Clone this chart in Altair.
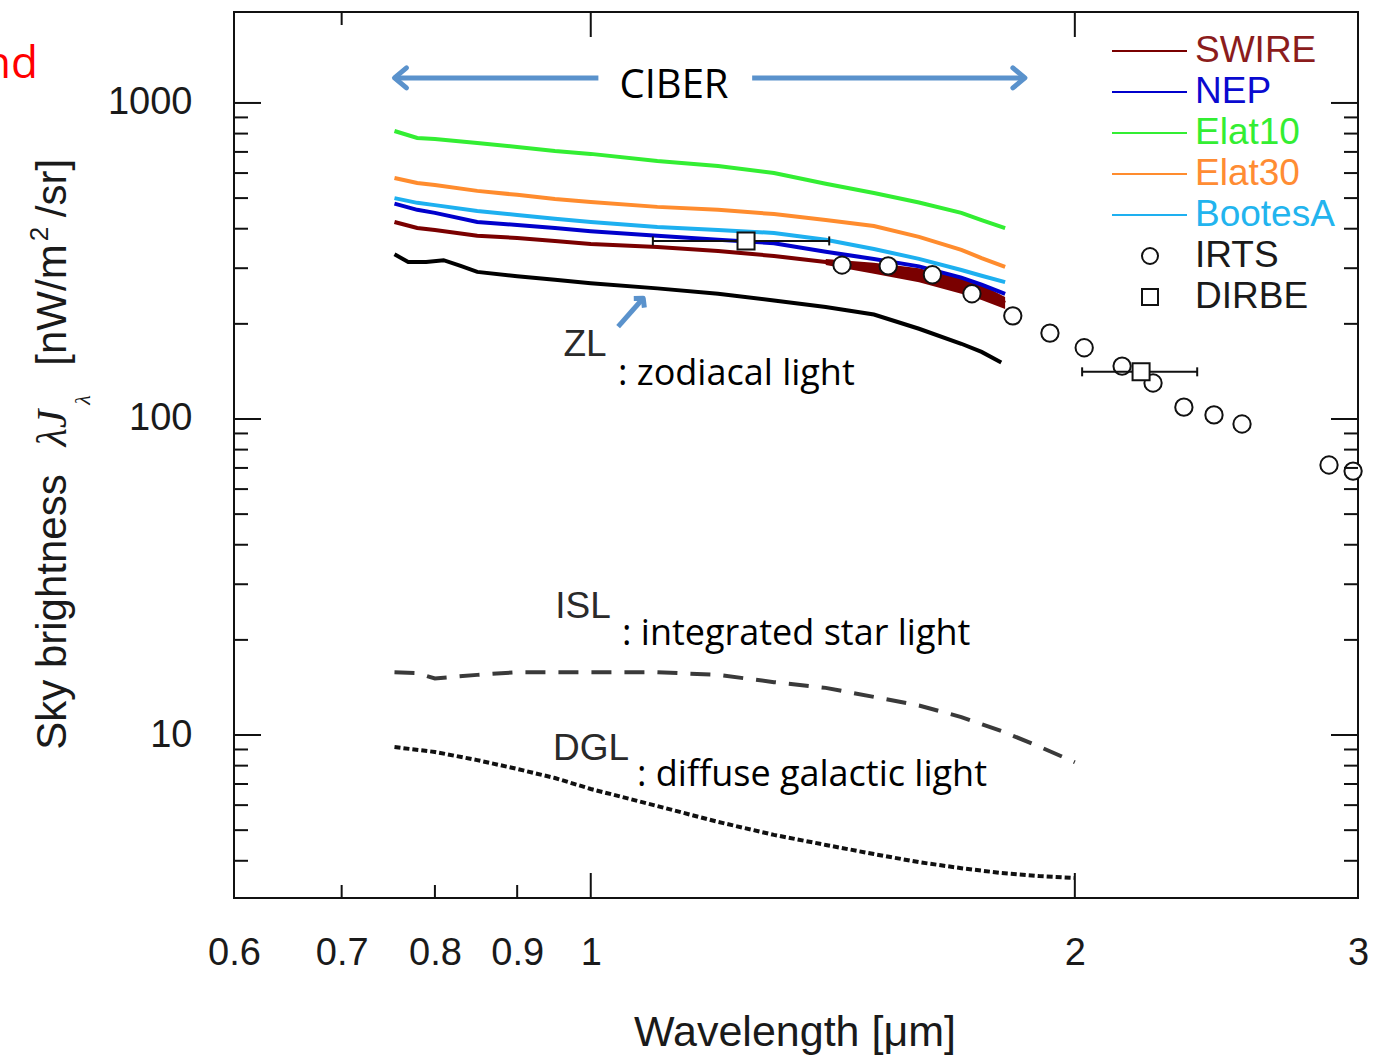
import altair as alt
import pandas as pd

# ---------------- data ----------------
# CIBER sky spectra per field  [um] / [nW/m^2/sr]
ciber_wl = [0.755, 0.78, 0.80, 0.85, 0.90, 0.95, 1.00, 1.10, 1.20, 1.30, 1.40, 1.50, 1.60, 1.70, 1.75, 1.81]
elat10 = [815, 775, 769, 747, 726, 705, 690, 655, 632, 600, 555, 519, 484, 449, 426, 402]
elat30 = [579, 558, 550, 527, 512, 497, 486, 469, 459, 445, 426, 408, 377, 343, 323, 303]
bootesa = [500, 483, 475, 455, 442, 430, 420, 405, 396, 388, 369, 345, 321, 296, 284, 271]
nep = [480, 459, 449, 420, 411, 402, 393, 380, 369, 360, 338, 321, 304, 280, 266, 249]
swire = [420, 402, 396, 380, 374, 366, 358, 350, 340, 328, 314, 300, 287, 264, 249, 233]

# SWIRE uncertainty band at long wavelengths
swire_band_wl = [1.40, 1.50, 1.60, 1.70, 1.75, 1.81]
swire_band_lo = [307, 288, 271, 249, 238, 223]
swire_band_hi = [321, 312, 300, 279, 266, 243]

# zodiacal light model
zl_wl = [0.755, 0.77, 0.79, 0.81, 0.83, 0.85, 0.90, 0.95, 1.00, 1.10, 1.20, 1.30, 1.40, 1.50, 1.60, 1.70, 1.75, 1.80]
zl = [332, 314, 314, 318, 305, 292, 283, 276, 269, 259, 249, 237, 226, 214, 193, 173, 163, 151]

# integrated star light
isl_wl = [0.755, 0.78, 0.80, 0.85, 0.90, 1.0, 1.1, 1.2, 1.3, 1.4, 1.5, 1.6, 1.7, 1.8, 1.9, 2.0]
isl = [15.8, 15.7, 15.1, 15.5, 15.8, 15.8, 15.8, 15.5, 14.7, 14.1, 13.2, 12.4, 11.4, 10.3, 9.2, 8.2]

# diffuse galactic light
dgl_wl = [0.755, 0.80, 0.85, 0.90, 0.95, 1.0, 1.1, 1.2, 1.3, 1.4, 1.5, 1.6, 1.7, 1.8, 1.9, 2.0]
dgl = [9.16, 8.84, 8.33, 7.81, 7.31, 6.75, 5.96, 5.31, 4.83, 4.49, 4.20, 3.96, 3.79, 3.66, 3.58, 3.53]

# IRTS points
irts_wl = [1.433, 1.531, 1.631, 1.726, 1.830, 1.930, 2.027, 2.140, 2.237, 2.338, 2.441, 2.541, 2.878, 2.979]
irts = [307, 305, 286, 249, 212, 187, 168, 147, 130, 109, 103, 96.4, 71.5, 68.4]

# DIRBE points with band widths
dirbe_wl = [1.249, 2.199]
dirbe = [366, 141]
dirbe_lo = [1.093, 2.021]
dirbe_hi = [1.407, 2.383]

# CIBER wavelength coverage arrow (two segments around the label)
ciber_seg_start = [0.755, 1.26]
ciber_seg_end = [1.011, 1.862]
ciber_arrow_level = [1200, 1200]

# ZL pointer arrow
zl_arrow_from = (1.040, 196)
zl_arrow_to = (1.078, 241)

# axes
x_tick_labels = [0.6, 0.7, 0.8, 0.9, 1, 2, 3]
x_major = [1, 2]
x_minor = [0.7, 0.8, 0.9]
x_top_major = [1, 2]
x_top_minor = [0.7]
y_tick_labels = [10, 100, 1000]
y_major = [10, 100, 1000]
y_minor = [4, 5, 6, 7, 8, 9, 20, 30, 40, 50, 60, 70, 80, 90,
           200, 300, 400, 500, 600, 700, 800, 900]

# legend
legend_names = ["SWIRE", "NEP", "Elat10", "Elat30", "BootesA"]
legend_line_colors = ["#7a0000", "#0000cc", "#33ee33", "#ff8c2e", "#1eb0f0"]
legend_text_colors = ["#8b1c1c", "#0a0ad0", "#33ee33", "#ff8c33", "#22b4ee"]
legend_symbols = [("IRTS", "circle"), ("DIRBE", "square")]

# ---------------- layout / styles ----------------
W, H = 1124, 886
SANS = "Liberation Sans"
CAL = "Open Sans"
INK = "#1a1a1a"
ARROW = "#5a92cc"

xs = alt.Scale(type="log", domain=[0.6, 3.0], nice=False)
ys = alt.Scale(type="log", domain=[3.05, 1940], nice=False)

x_axis = alt.Axis(values=x_tick_labels, format="~g", title=None, grid=False, domain=False,
                  ticks=False, tickSize=0, labelFont=SANS, labelFontSize=38, labelColor=INK,
                  labelPadding=55, labelBaseline="middle", labelFlush=False, labelOverlap=False)
y_axis = alt.Axis(values=y_tick_labels, format="d", title=None, grid=False, domain=False,
                  ticks=False, tickSize=0, labelFont=SANS, labelFontSize=38, labelColor=INK,
                  labelPadding=42, labelFlush=False, labelOverlap=False)


def X(f):
    return alt.X(f"{f}:Q", scale=xs, axis=x_axis)


def Y(f):
    return alt.Y(f"{f}:Q", scale=ys, axis=y_axis)


layers = []

# ISL (dashed)
layers.append(alt.Chart(pd.DataFrame({"wl": isl_wl, "v": isl})).mark_line(
    color="#3a3a3a", strokeWidth=4, strokeDash=[20, 13]).encode(x=X("wl"), y=Y("v")))
# DGL (dotted)
layers.append(alt.Chart(pd.DataFrame({"wl": dgl_wl, "v": dgl})).mark_line(
    color="#111111", strokeWidth=4, strokeDash=[6, 3]).encode(x=X("wl"), y=Y("v")))
# ZL
layers.append(alt.Chart(pd.DataFrame({"wl": zl_wl, "v": zl})).mark_line(
    color="#000000", strokeWidth=4).encode(x=X("wl"), y=Y("v")))
# SWIRE band
layers.append(alt.Chart(pd.DataFrame({"wl": swire_band_wl, "lo": swire_band_lo, "hi": swire_band_hi})).mark_area(
    color="#7a0000", opacity=1).encode(x=X("wl"), y=Y("lo"), y2=alt.Y2("hi")))

series_vals = {"SWIRE": swire, "NEP": nep, "Elat10": elat10, "Elat30": elat30, "BootesA": bootesa}
for name in ["SWIRE", "NEP", "BootesA", "Elat30", "Elat10"]:
    col = legend_line_colors[legend_names.index(name)]
    layers.append(alt.Chart(pd.DataFrame({"wl": ciber_wl, "v": series_vals[name]})).mark_line(
        color=col, strokeWidth=4).encode(x=X("wl"), y=Y("v")))

# IRTS circles
layers.append(alt.Chart(pd.DataFrame({"wl": irts_wl, "v": irts})).mark_point(
    shape="circle", size=300, fill="white", stroke="#111111", strokeWidth=2, opacity=1,
    fillOpacity=1).encode(x=X("wl"), y=Y("v")))

# DIRBE error bars + squares
dirbe_df = pd.DataFrame({"wl": dirbe_wl, "v": dirbe, "lo": dirbe_lo, "hi": dirbe_hi})
layers.append(alt.Chart(dirbe_df).mark_rule(color="#111111", strokeWidth=2).encode(
    x=X("lo"), x2=alt.X2("hi"), y=Y("v")))
layers.append(alt.Chart(dirbe_df).mark_tick(orient="vertical", size=9, thickness=2, color="#111111",
                                            opacity=1).encode(x=X("lo"), y=Y("v")))
layers.append(alt.Chart(dirbe_df).mark_tick(orient="vertical", size=9, thickness=2, color="#111111",
                                            opacity=1).encode(x=X("hi"), y=Y("v")))
layers.append(alt.Chart(dirbe_df).mark_point(
    shape="square", size=290, fill="white", stroke="#111111", strokeWidth=2, opacity=1,
    fillOpacity=1).encode(x=X("wl"), y=Y("v")))

# ---- inward ticks ----
def yticks(vals, length):
    d = pd.DataFrame({"v": vals})
    return [
        alt.Chart(d).mark_rule(color="#111111", strokeWidth=2).encode(y=Y("v"), x=alt.value(0), x2=alt.value(length)),
        alt.Chart(d).mark_rule(color="#111111", strokeWidth=2).encode(y=Y("v"), x=alt.value(W - length), x2=alt.value(W)),
    ]


def xticks(vals, length, top):
    d = pd.DataFrame({"v": vals})
    if top:
        return [alt.Chart(d).mark_rule(color="#111111", strokeWidth=2).encode(x=X("v"), y=alt.value(0), y2=alt.value(length))]
    return [alt.Chart(d).mark_rule(color="#111111", strokeWidth=2).encode(x=X("v"), y=alt.value(H - length), y2=alt.value(H))]


layers += yticks(y_major, 27) + yticks(y_minor, 14)
layers += xticks(x_major, 25, False) + xticks(x_minor, 13, False)
layers += xticks(x_top_major, 25, True) + xticks(x_top_minor, 13, True)

# ---- CIBER arrow ----
seg_df = pd.DataFrame({"a": ciber_seg_start, "b": ciber_seg_end, "v": ciber_arrow_level})
layers.append(alt.Chart(seg_df).mark_rule(color=ARROW, strokeWidth=5).encode(x=X("a"), x2=alt.X2("b"), y=Y("v")))
head_df = pd.DataFrame({"wl": [ciber_seg_start[0]], "v": [ciber_arrow_level[0]]})
layers.append(alt.Chart(head_df).mark_point(shape="M1.2,-1L0,0L1.2,1", size=400, filled=False, color=ARROW,
                                            strokeWidth=5, opacity=1, strokeCap="round", strokeJoin="round").encode(x=X("wl"), y=Y("v")))
head_df2 = pd.DataFrame({"wl": [ciber_seg_end[1]], "v": [ciber_arrow_level[1]]})
layers.append(alt.Chart(head_df2).mark_point(shape="M-1.2,-1L0,0L-1.2,1", size=400, filled=False, color=ARROW,
                                             strokeWidth=5, opacity=1, strokeCap="round", strokeJoin="round").encode(x=X("wl"), y=Y("v")))

# ---- ZL arrow ----
zl_arr = pd.DataFrame({"a": [zl_arrow_from[0]], "b": [zl_arrow_to[0]], "va": [zl_arrow_from[1]], "vb": [zl_arrow_to[1]]})
layers.append(alt.Chart(zl_arr).mark_rule(color=ARROW, strokeWidth=5).encode(
    x=X("a"), x2=alt.X2("b"), y=Y("va"), y2=alt.Y2("vb")))
layers.append(alt.Chart(zl_arr).mark_point(shape="M-1,0.9L0,0L1,0.9", size=196, filled=False, color=ARROW,
                                           strokeWidth=5, opacity=1, angle=41, strokeJoin="round").encode(x=X("b"), y=Y("vb")))


# ---- text helpers ----
def txt(s, x, y, font, size, align="left", color="#222222", angle=0, style=None, baseline="alphabetic"):
    kw = dict(font=font, fontSize=size, color=color, align=align, baseline=baseline)
    if angle:
        kw["angle"] = angle
    if style:
        kw["fontStyle"] = style
    return alt.Chart(pd.DataFrame({"t": [s]})).mark_text(**kw).encode(
        x=alt.value(x), y=alt.value(y), text="t:N")


layers.append(txt("CIBER", 440, 86, CAL, 40, align="center", color="#000000"))

# ---- component annotations ----
layers.append(txt("ZL", 351, 344, SANS, 37, align="center", color="#2a2a2a"))
layers.append(txt(": zodiacal light", 384, 373, CAL, 36, color="#000000"))
layers.append(txt("ISL", 349, 606, SANS, 37, align="center", color="#2a2a2a"))
layers.append(txt(": integrated star light", 388, 633, CAL, 36, color="#000000"))
layers.append(txt("DGL", 357, 748, SANS, 37, align="center", color="#2a2a2a"))
layers.append(txt(": diffuse galactic light", 403, 774, CAL, 36, color="#000000"))

# ---- legend ----
for i, name in enumerate(legend_names):
    yy = 39 + 41 * i
    layers.append(alt.Chart(pd.DataFrame({"t": [name]})).mark_rule(
        color=legend_line_colors[i], strokeWidth=2).encode(x=alt.value(878), x2=alt.value(953), y=alt.value(yy)))
    layers.append(txt(name, 961, yy, SANS, 37, color=legend_text_colors[i], baseline="middle"))
for j, (name, shp) in enumerate(legend_symbols):
    yy = 39 + 41 * (len(legend_names) + j)
    layers.append(alt.Chart(pd.DataFrame({"t": [name]})).mark_point(
        shape=shp, size=256, fill="white", stroke="#111111", strokeWidth=2, opacity=1, fillOpacity=1).encode(
        x=alt.value(916), y=alt.value(yy)))
    layers.append(txt(name, 961, yy, SANS, 37, color=INK, baseline="middle"))

# ---- axis titles ----
layers.append(txt("Wavelength [\u03bcm]", 561, 1034, SANS, 43, align="center", color=INK))
layers.append(txt("Sky brightness", -168, 600, SANS, 42, align="center", color=INK, angle=270))
layers.append(txt("\u03bbJ", -168, 416, "Liberation Serif", 42, align="center", color=INK, angle=270, style="italic"))
layers.append(txt("\u03bb", -144, 388, "Liberation Serif", 22, align="center", color=INK, angle=270, style="italic"))
layers.append(txt("[nW/m", -168, 293, SANS, 42, align="center", color=INK, angle=270))
layers.append(txt("2", -186, 222, SANS, 26, align="center", color=INK, angle=270))
layers.append(txt("/sr]", -168, 176, SANS, 42, align="center", color=INK, angle=270))

# cropped fragment of slide text at top-left (cut by the image edge, as in the reference)
layers.append(txt("nd", -196, 66, CAL, 44, align="right", color="#ff0000"))

chart = alt.layer(*layers).properties(
    width=W, height=H,
    padding={"left": 234, "top": 12, "right": 16, "bottom": 157},
    autosize=alt.AutoSizeParams(type="none"),
    background="white",
).configure_view(stroke="#111111", strokeWidth=2)

chart.save("out.html", embed_options={"renderer": "svg", "actions": False})
